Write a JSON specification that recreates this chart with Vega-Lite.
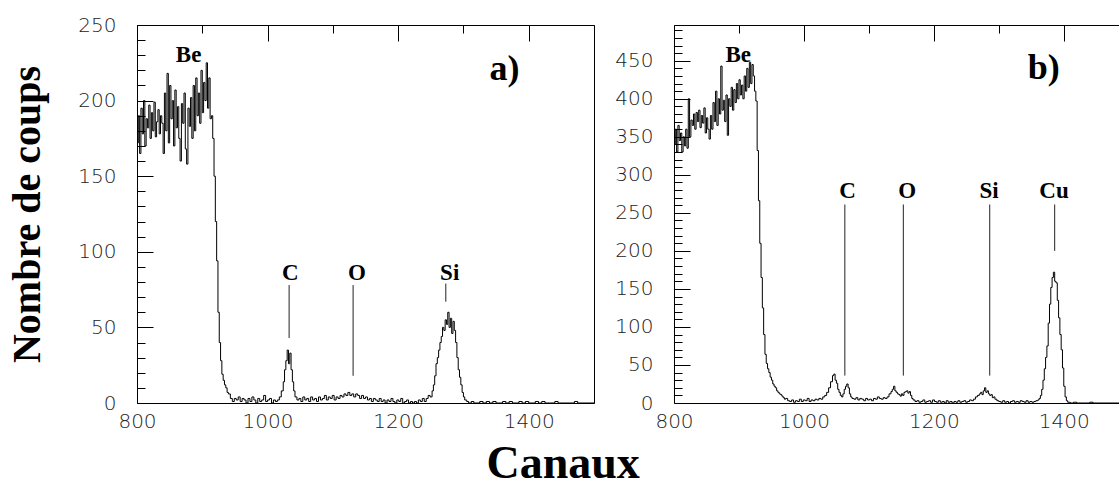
{
  "$schema": "https://vega.github.io/schema/vega-lite/v6.json",
  "padding": {"left": 7, "top": 14, "right": 0, "bottom": 0},
  "background": "white",
  "config": {
    "view": {"stroke": null},
    "axis": {"domainColor": "black", "labelColor": "#222", "labelFont": "DejaVu Sans ExtraLight, DejaVu Sans", "labelFontWeight": 200, "labelFontSize": 20, "titleFont": "Liberation Serif", "titleFontWeight": "bold", "titleColor": "black", "format": "d", "gridColor": "black", "gridOpacity": 1, "gridWidth": 1},
    "text": {"font": "Liberation Serif", "fontWeight": "bold", "color": "black"}
  },
  "title": {"text": "Canaux", "orient": "bottom", "anchor": "middle", "font": "Liberation Serif", "fontWeight": "bold", "fontSize": 46, "offset": 10, "color": "black"},
  "spacing": 19,
  "datasets": {
    "a": [
      {"c":800,"n":172},{"c":802,"n":190},{"c":804,"n":165},{"c":806,"n":195},{"c":808,"n":178},{"c":810,"n":200},{"c":812,"n":170},{"c":814,"n":188},{"c":816,"n":182},{"c":818,"n":197},
      {"c":820,"n":175},{"c":822,"n":192},{"c":824,"n":180},{"c":826,"n":199},{"c":828,"n":176},{"c":830,"n":186},{"c":832,"n":194},{"c":834,"n":178},{"c":836,"n":190},{"c":838,"n":185},
      {"c":840,"n":165},{"c":842,"n":205},{"c":844,"n":180},{"c":846,"n":218},{"c":848,"n":172},{"c":850,"n":210},{"c":852,"n":188},{"c":854,"n":200},{"c":856,"n":170},{"c":858,"n":207},
      {"c":860,"n":182},{"c":862,"n":196},{"c":864,"n":175},{"c":866,"n":160},{"c":868,"n":198},{"c":870,"n":185},{"c":872,"n":205},{"c":874,"n":168},{"c":876,"n":158},{"c":878,"n":195},
      {"c":880,"n":183},{"c":882,"n":202},{"c":884,"n":175},{"c":886,"n":210},{"c":888,"n":180},{"c":890,"n":215},{"c":892,"n":190},{"c":894,"n":205},{"c":896,"n":185},{"c":898,"n":220},
      {"c":900,"n":192},{"c":902,"n":212},{"c":904,"n":200},{"c":906,"n":225},{"c":908,"n":195},{"c":910,"n":215},{"c":912,"n":188},{"c":914,"n":190},{"c":916,"n":175},{"c":918,"n":150},
      {"c":920,"n":120},{"c":922,"n":94},{"c":924,"n":60},{"c":926,"n":40},{"c":928,"n":28},{"c":930,"n":19},{"c":932,"n":15},{"c":934,"n":12},{"c":936,"n":10},{"c":938,"n":7},
      {"c":940,"n":6},{"c":943,"n":3},{"c":946,"n":1},{"c":949,"n":3},{"c":952,"n":2},{"c":955,"n":4},{"c":958,"n":1},{"c":961,"n":3},{"c":964,"n":2},{"c":967,"n":0},
      {"c":970,"n":3},{"c":973,"n":1},{"c":976,"n":4},{"c":979,"n":2},{"c":982,"n":0},{"c":985,"n":3},{"c":988,"n":1},{"c":991,"n":2},{"c":994,"n":5},{"c":997,"n":1},
      {"c":1000,"n":2},{"c":1003,"n":3},{"c":1006,"n":0},{"c":1009,"n":2},{"c":1012,"n":1},{"c":1015,"n":2},{"c":1018,"n":4},{"c":1021,"n":8},{"c":1024,"n":14},{"c":1026,"n":22},
      {"c":1028,"n":28},{"c":1030,"n":35},{"c":1032,"n":26},{"c":1034,"n":33},{"c":1036,"n":22},{"c":1038,"n":14},{"c":1040,"n":8},{"c":1042,"n":4},{"c":1045,"n":2},{"c":1048,"n":3},
      {"c":1051,"n":1},{"c":1054,"n":4},{"c":1057,"n":2},{"c":1060,"n":3},{"c":1063,"n":1},{"c":1066,"n":4},{"c":1069,"n":2},{"c":1072,"n":3},{"c":1075,"n":1},{"c":1078,"n":4},
      {"c":1081,"n":2},{"c":1084,"n":3},{"c":1087,"n":5},{"c":1090,"n":2},{"c":1093,"n":4},{"c":1096,"n":3},{"c":1099,"n":5},{"c":1102,"n":2},{"c":1105,"n":4},{"c":1108,"n":3},
      {"c":1111,"n":5},{"c":1114,"n":4},{"c":1117,"n":6},{"c":1120,"n":5},{"c":1123,"n":7},{"c":1126,"n":5},{"c":1129,"n":6},{"c":1132,"n":4},{"c":1135,"n":6},{"c":1138,"n":5},
      {"c":1141,"n":3},{"c":1144,"n":5},{"c":1147,"n":3},{"c":1150,"n":4},{"c":1153,"n":2},{"c":1156,"n":3},{"c":1159,"n":1},{"c":1162,"n":3},{"c":1165,"n":2},{"c":1168,"n":1},
      {"c":1171,"n":3},{"c":1174,"n":1},{"c":1177,"n":2},{"c":1180,"n":0},{"c":1183,"n":2},{"c":1186,"n":1},{"c":1189,"n":3},{"c":1192,"n":1},{"c":1195,"n":0},{"c":1198,"n":2},
      {"c":1201,"n":1},{"c":1204,"n":3},{"c":1207,"n":0},{"c":1210,"n":1},{"c":1213,"n":2},{"c":1216,"n":0},{"c":1219,"n":1},{"c":1222,"n":0},{"c":1225,"n":1},{"c":1228,"n":0},
      {"c":1231,"n":2},{"c":1234,"n":1},{"c":1237,"n":3},{"c":1240,"n":1},{"c":1243,"n":3},{"c":1246,"n":5},{"c":1249,"n":4},{"c":1252,"n":8},{"c":1254,"n":12},{"c":1256,"n":18},
      {"c":1258,"n":26},{"c":1260,"n":30},{"c":1262,"n":35},{"c":1264,"n":40},{"c":1266,"n":44},{"c":1268,"n":50},{"c":1270,"n":48},{"c":1272,"n":55},{"c":1274,"n":52},{"c":1276,"n":60},
      {"c":1278,"n":50},{"c":1280,"n":56},{"c":1282,"n":46},{"c":1284,"n":54},{"c":1286,"n":48},{"c":1288,"n":40},{"c":1290,"n":30},{"c":1292,"n":22},{"c":1294,"n":17},{"c":1296,"n":12},
      {"c":1298,"n":7},{"c":1300,"n":4},{"c":1302,"n":2},{"c":1305,"n":1},{"c":1308,"n":0},{"c":1312,"n":1},{"c":1316,"n":0},{"c":1325,"n":1},{"c":1330,"n":0},{"c":1335,"n":1},
      {"c":1340,"n":0},{"c":1345,"n":1},{"c":1350,"n":0},{"c":1360,"n":1},{"c":1365,"n":0},{"c":1370,"n":1},{"c":1375,"n":0},{"c":1385,"n":1},{"c":1390,"n":0},{"c":1395,"n":1},
      {"c":1400,"n":0},{"c":1410,"n":1},{"c":1415,"n":0},{"c":1420,"n":1},{"c":1425,"n":0},{"c":1440,"n":1},{"c":1445,"n":0},{"c":1470,"n":1},{"c":1475,"n":0},{"c":1500,"n":0}
    ],
    "b": [
      {"c":800,"n":340},{"c":802,"n":360},{"c":804,"n":330},{"c":806,"n":365},{"c":808,"n":345},{"c":810,"n":355},{"c":812,"n":330},{"c":814,"n":350},{"c":816,"n":338},{"c":818,"n":360},
      {"c":820,"n":335},{"c":822,"n":400},{"c":824,"n":350},{"c":826,"n":372},{"c":828,"n":365},{"c":830,"n":380},{"c":832,"n":360},{"c":834,"n":382},{"c":836,"n":370},{"c":838,"n":385},
      {"c":840,"n":362},{"c":842,"n":378},{"c":844,"n":368},{"c":846,"n":388},{"c":848,"n":355},{"c":850,"n":375},{"c":852,"n":360},{"c":854,"n":347},{"c":856,"n":378},{"c":858,"n":360},
      {"c":860,"n":395},{"c":862,"n":370},{"c":864,"n":410},{"c":866,"n":365},{"c":868,"n":400},{"c":870,"n":380},{"c":872,"n":443},{"c":874,"n":385},{"c":876,"n":398},{"c":878,"n":370},
      {"c":880,"n":405},{"c":882,"n":352},{"c":884,"n":400},{"c":886,"n":390},{"c":888,"n":415},{"c":890,"n":385},{"c":892,"n":412},{"c":894,"n":395},{"c":896,"n":420},{"c":898,"n":400},
      {"c":900,"n":425},{"c":902,"n":405},{"c":904,"n":418},{"c":906,"n":400},{"c":908,"n":430},{"c":910,"n":410},{"c":912,"n":440},{"c":914,"n":415},{"c":916,"n":448},{"c":918,"n":420},
      {"c":920,"n":445},{"c":922,"n":430},{"c":924,"n":410},{"c":926,"n":397},{"c":928,"n":332},{"c":930,"n":266},{"c":932,"n":210},{"c":934,"n":165},{"c":936,"n":125},{"c":938,"n":90},
      {"c":940,"n":64},{"c":942,"n":52},{"c":944,"n":45},{"c":946,"n":40},{"c":948,"n":34},{"c":950,"n":30},{"c":952,"n":25},{"c":954,"n":22},{"c":956,"n":20},{"c":958,"n":16},
      {"c":960,"n":14},{"c":962,"n":12},{"c":964,"n":11},{"c":966,"n":9},{"c":968,"n":7},{"c":970,"n":5},{"c":972,"n":6},{"c":975,"n":3},{"c":978,"n":2},{"c":981,"n":4},
      {"c":984,"n":1},{"c":987,"n":3},{"c":990,"n":2},{"c":993,"n":5},{"c":996,"n":2},{"c":999,"n":4},{"c":1002,"n":3},{"c":1005,"n":6},{"c":1008,"n":2},{"c":1011,"n":4},
      {"c":1014,"n":3},{"c":1017,"n":5},{"c":1020,"n":4},{"c":1023,"n":6},{"c":1026,"n":5},{"c":1029,"n":8},{"c":1032,"n":10},{"c":1035,"n":14},{"c":1038,"n":20},{"c":1041,"n":28},
      {"c":1044,"n":36},{"c":1046,"n":38},{"c":1048,"n":30},{"c":1050,"n":26},{"c":1052,"n":18},{"c":1054,"n":14},{"c":1056,"n":10},{"c":1058,"n":8},{"c":1060,"n":12},{"c":1062,"n":18},
      {"c":1064,"n":22},{"c":1066,"n":25},{"c":1068,"n":20},{"c":1070,"n":12},{"c":1072,"n":8},{"c":1074,"n":6},{"c":1077,"n":5},{"c":1080,"n":7},{"c":1083,"n":4},{"c":1086,"n":6},
      {"c":1089,"n":5},{"c":1092,"n":3},{"c":1095,"n":6},{"c":1098,"n":4},{"c":1101,"n":5},{"c":1104,"n":3},{"c":1107,"n":6},{"c":1110,"n":5},{"c":1113,"n":8},{"c":1116,"n":6},
      {"c":1119,"n":5},{"c":1122,"n":7},{"c":1125,"n":6},{"c":1128,"n":8},{"c":1131,"n":12},{"c":1134,"n":15},{"c":1136,"n":18},{"c":1138,"n":22},{"c":1140,"n":16},{"c":1142,"n":14},
      {"c":1144,"n":12},{"c":1146,"n":11},{"c":1148,"n":9},{"c":1150,"n":12},{"c":1152,"n":10},{"c":1154,"n":14},{"c":1156,"n":15},{"c":1158,"n":16},{"c":1160,"n":13},{"c":1162,"n":15},
      {"c":1164,"n":10},{"c":1166,"n":6},{"c":1168,"n":4},{"c":1171,"n":2},{"c":1174,"n":3},{"c":1177,"n":1},{"c":1180,"n":2},{"c":1183,"n":4},{"c":1186,"n":1},{"c":1189,"n":2},
      {"c":1192,"n":3},{"c":1195,"n":1},{"c":1198,"n":4},{"c":1201,"n":2},{"c":1204,"n":1},{"c":1207,"n":3},{"c":1210,"n":1},{"c":1213,"n":2},{"c":1216,"n":0},{"c":1219,"n":3},
      {"c":1222,"n":1},{"c":1225,"n":2},{"c":1228,"n":0},{"c":1231,"n":2},{"c":1234,"n":1},{"c":1237,"n":3},{"c":1240,"n":1},{"c":1243,"n":2},{"c":1246,"n":3},{"c":1249,"n":1},
      {"c":1252,"n":2},{"c":1255,"n":4},{"c":1258,"n":3},{"c":1261,"n":5},{"c":1264,"n":8},{"c":1267,"n":10},{"c":1270,"n":12},{"c":1272,"n":14},{"c":1274,"n":11},{"c":1276,"n":16},
      {"c":1278,"n":20},{"c":1280,"n":14},{"c":1282,"n":16},{"c":1284,"n":12},{"c":1286,"n":10},{"c":1288,"n":11},{"c":1290,"n":7},{"c":1292,"n":8},{"c":1294,"n":5},{"c":1297,"n":3},
      {"c":1300,"n":2},{"c":1303,"n":1},{"c":1306,"n":3},{"c":1309,"n":1},{"c":1312,"n":2},{"c":1315,"n":0},{"c":1318,"n":2},{"c":1321,"n":3},{"c":1324,"n":1},{"c":1327,"n":2},
      {"c":1330,"n":1},{"c":1333,"n":3},{"c":1336,"n":2},{"c":1339,"n":1},{"c":1342,"n":3},{"c":1345,"n":1},{"c":1348,"n":2},{"c":1351,"n":1},{"c":1354,"n":2},{"c":1357,"n":3},
      {"c":1360,"n":4},{"c":1362,"n":6},{"c":1364,"n":10},{"c":1366,"n":18},{"c":1368,"n":30},{"c":1370,"n":45},{"c":1372,"n":60},{"c":1374,"n":75},{"c":1376,"n":105},{"c":1378,"n":130},
      {"c":1380,"n":152},{"c":1382,"n":165},{"c":1384,"n":172},{"c":1386,"n":160},{"c":1388,"n":158},{"c":1390,"n":135},{"c":1392,"n":112},{"c":1394,"n":90},{"c":1396,"n":70},{"c":1398,"n":46},
      {"c":1400,"n":22},{"c":1402,"n":8},{"c":1404,"n":3},{"c":1406,"n":1},{"c":1410,"n":0},{"c":1415,"n":1},{"c":1420,"n":0},{"c":1440,"n":1},{"c":1445,"n":0},{"c":1486,"n":0}
    ],
    "ghost": [{"c": 800, "n": 0}],
    "rulesA": [{"c": 1033, "n": 43, "n2": 78}, {"c": 1131, "n": 18, "n2": 78}, {"c": 1273, "n": 67, "n2": 79}],
    "textA": [{"c": 879, "n": 230, "t": "Be"}, {"c": 1035, "n": 86, "t": "C"}, {"c": 1137, "n": 86, "t": "O"}, {"c": 1279, "n": 86, "t": "Si"}],
    "panelA": [{"c": 1363, "n": 221, "t": "a)"}],
    "rulesB": [{"c": 1063, "n": 36, "n2": 261}, {"c": 1153, "n": 36, "n2": 261}, {"c": 1286, "n": 36, "n2": 261}, {"c": 1386, "n": 200, "n2": 261}],
    "textB": [{"c": 899, "n": 457, "t": "Be"}, {"c": 1067, "n": 279, "t": "C"}, {"c": 1159, "n": 279, "t": "O"}, {"c": 1285, "n": 279, "t": "Si"}, {"c": 1385, "n": 279, "t": "Cu"}],
    "panelB": [{"c": 1369, "n": 441, "t": "b)"}]
  },
  "hconcat": [
    {
      "width": 457,
      "height": 378,
      "view": {"stroke": "black", "strokeWidth": 1},
      "resolve": {"axis": {"x": "independent", "y": "independent"}},
      "layer": [
        {
          "data": {"name": "a"},
          "mark": {"type": "line", "interpolate": "step-after", "color": "black", "strokeWidth": 1, "clip": true},
          "encoding": {
            "x": {"field": "c", "type": "quantitative", "scale": {"domain": [800, 1500], "nice": false, "zero": false},
                  "axis": {"orient": "bottom", "values": [800, 900, 1000, 1100, 1200, 1300, 1400, 1500], "ticks": false, "grid": true, "gridDash": {"condition": {"test": "datum.value % 200 === 0", "value": [16, 1000]}, "value": [8, 1000]}, "labelPadding": 8, "labelExpr": "datum.value % 200 === 0 && datum.value < 1500 ? datum.label : ''", "title": null, "labelFlush": false}},
            "y": {"field": "n", "type": "quantitative", "scale": {"domain": [0, 250], "nice": false, "zero": false},
                  "axis": {"orient": "left", "values": [0,10,20,30,40,50,60,70,80,90,100,110,120,130,140,150,160,170,180,190,200,210,220,230,240,250], "ticks": false, "grid": true, "gridDash": {"condition": {"test": "datum.value % 50 === 0", "value": [16, 1000]}, "value": [8, 1000]}, "labelPadding": 21, "labelExpr": "datum.value % 50 === 0 ? datum.label : ''", "title": "Nombre de coups", "titleFontSize": 40, "titlePadding": 30}}
          }
        },
        {
          "data": {"name": "rulesA"},
          "mark": {"type": "rule", "color": "#222", "strokeWidth": 1},
          "encoding": {
            "x": {"field": "c", "type": "quantitative", "axis": null},
            "y": {"field": "n", "type": "quantitative", "axis": null},
            "y2": {"field": "n2"}
          }
        },
        {
          "data": {"name": "textA"},
          "mark": {"type": "text", "fontSize": 23, "baseline": "middle", "align": "center"},
          "encoding": {
            "x": {"field": "c", "type": "quantitative", "axis": null},
            "y": {"field": "n", "type": "quantitative", "axis": null},
            "text": {"field": "t"}
          }
        },
        {
          "data": {"name": "panelA"},
          "mark": {"type": "text", "fontSize": 36, "baseline": "middle", "align": "center"},
          "encoding": {
            "x": {"field": "c", "type": "quantitative", "axis": null},
            "y": {"field": "n", "type": "quantitative", "axis": null},
            "text": {"field": "t"}
          }
        }
      ]
    },
    {
      "width": 445,
      "height": 378,
      "resolve": {"axis": {"x": "independent", "y": "independent"}},
      "layer": [
        {
          "data": {"name": "b"},
          "mark": {"type": "line", "interpolate": "step-after", "color": "black", "strokeWidth": 1, "clip": true},
          "encoding": {
            "x": {"field": "c", "type": "quantitative", "scale": {"domain": [800, 1485], "nice": false, "zero": false},
                  "axis": {"orient": "bottom", "values": [800, 900, 1000, 1100, 1200, 1300, 1400], "ticks": false, "grid": true, "gridDash": {"condition": {"test": "datum.value % 200 === 0", "value": [16, 1000]}, "value": [8, 1000]}, "labelPadding": 8, "labelExpr": "datum.value % 200 === 0 ? datum.label : ''", "title": null, "labelFlush": false}},
            "y": {"field": "n", "type": "quantitative", "scale": {"domain": [0, 497], "nice": false, "zero": false},
                  "axis": {"orient": "left", "values": [0,10,20,30,40,50,60,70,80,90,100,110,120,130,140,150,160,170,180,190,200,210,220,230,240,250,260,270,280,290,300,310,320,330,340,350,360,370,380,390,400,410,420,430,440,450,460,470,480,490], "ticks": false, "grid": true, "gridDash": {"condition": {"test": "datum.value % 50 === 0", "value": [16, 1000]}, "value": [8, 1000]}, "labelPadding": 21, "labelExpr": "datum.value % 50 === 0 ? datum.label : ''", "title": null}}
          }
        },
        {
          "data": {"name": "ghost"},
          "mark": {"type": "point", "opacity": 0},
          "encoding": {
            "x": {"field": "c", "type": "quantitative", "scale": {"domain": [800, 1485], "nice": false, "zero": false},
                  "axis": {"orient": "top", "labels": false, "ticks": false, "grid": false, "domain": true, "title": null}},
            "y": {"field": "n", "type": "quantitative", "scale": {"domain": [0, 497], "nice": false, "zero": false}, "axis": null}
          }
        },
        {
          "data": {"name": "rulesB"},
          "mark": {"type": "rule", "color": "#222", "strokeWidth": 1},
          "encoding": {
            "x": {"field": "c", "type": "quantitative", "axis": null},
            "y": {"field": "n", "type": "quantitative", "axis": null},
            "y2": {"field": "n2"}
          }
        },
        {
          "data": {"name": "textB"},
          "mark": {"type": "text", "fontSize": 23, "baseline": "middle", "align": "center"},
          "encoding": {
            "x": {"field": "c", "type": "quantitative", "axis": null},
            "y": {"field": "n", "type": "quantitative", "axis": null},
            "text": {"field": "t"}
          }
        },
        {
          "data": {"name": "panelB"},
          "mark": {"type": "text", "fontSize": 36, "baseline": "middle", "align": "center"},
          "encoding": {
            "x": {"field": "c", "type": "quantitative", "axis": null},
            "y": {"field": "n", "type": "quantitative", "axis": null},
            "text": {"field": "t"}
          }
        }
      ]
    }
  ]
}
